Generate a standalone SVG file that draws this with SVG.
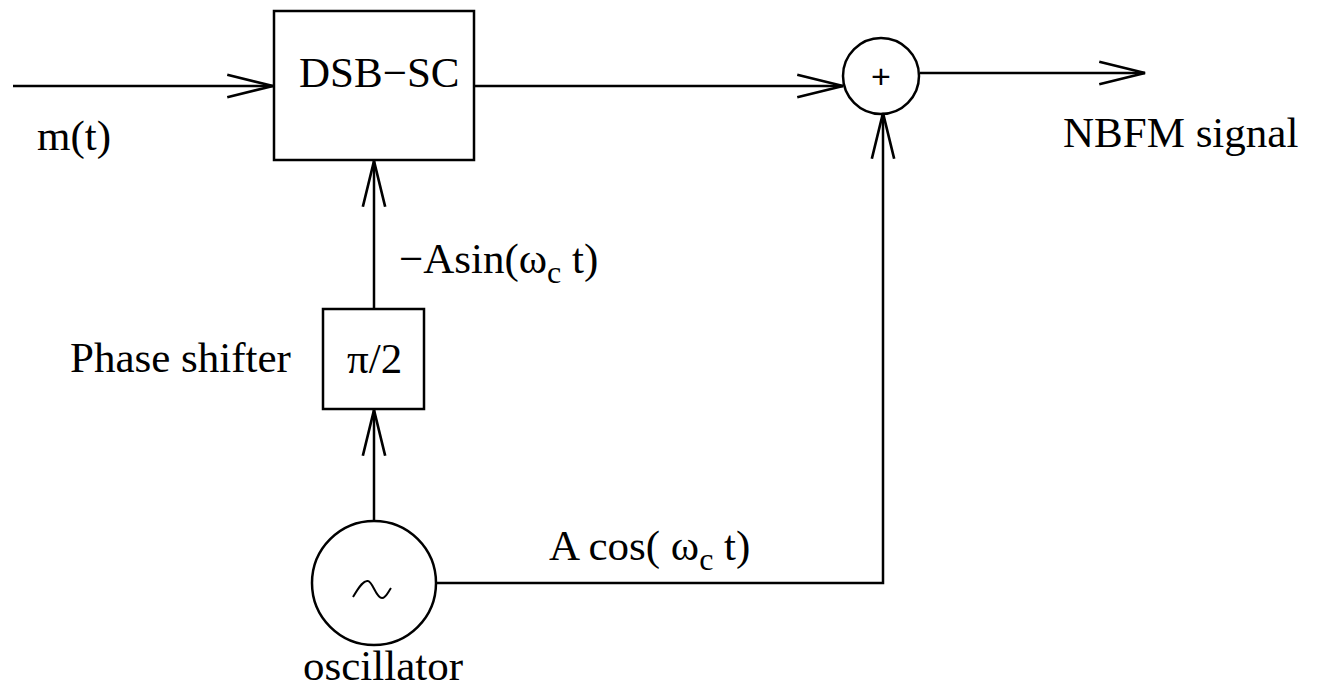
<svg xmlns="http://www.w3.org/2000/svg" width="1318" height="687" viewBox="0 0 1318 687">
<defs>
<marker id="a" markerUnits="userSpaceOnUse" markerWidth="50" markerHeight="30" viewBox="-45 -12 47 24" refX="0" refY="0" orient="auto">
<path d="M-43,-10.5 L0,0 L-43,10.5" fill="none" stroke="#000" stroke-width="2.5"/>
</marker>
</defs>
<rect width="1318" height="687" fill="#fff"/>
<g id="connectors" fill="none" stroke="#000" stroke-width="2.5">
<line x1="13" y1="86" x2="273" y2="86" marker-end="url(#a)"/>
<line x1="474" y1="86" x2="843" y2="86" marker-end="url(#a)"/>
<line x1="920" y1="73" x2="1145" y2="73" marker-end="url(#a)"/>
<line x1="374" y1="309" x2="374" y2="161" marker-end="url(#a)"/>
<line x1="374" y1="521" x2="374" y2="410" marker-end="url(#a)"/>
<polyline points="436,583 883,583 883,113" marker-end="url(#a)"/>
</g>
<g font-family="Liberation Serif" font-size="43" fill="#000">
<g id="dsbsc">
<rect x="274" y="11" width="200" height="149" fill="none" stroke="#000" stroke-width="2.5"/>
<text x="299" y="87">DSB−SC</text>
</g>
<g id="adder">
<circle cx="881" cy="76" r="38" fill="none" stroke="#000" stroke-width="2.5"/>
<text x="881" y="88" text-anchor="middle" font-family="Liberation Sans" font-size="34">+</text>
</g>
<g id="phase">
<rect x="323" y="309" width="101" height="100" fill="none" stroke="#000" stroke-width="2.5"/>
<text x="347" y="373">π/2</text>
</g>
<g id="oscillator">
<circle cx="374" cy="583" r="62" fill="none" stroke="#000" stroke-width="2.5"/>
<path d="M353,597 C360,585 364,580 368,581 C373,582 376,598 382,598 C386,598 388,592 391,588" fill="none" stroke="#000" stroke-width="2"/>
</g>
<g id="labels">
<text x="37" y="150">m(t)</text>
<text x="1063" y="147">NBFM signal</text>
<text x="399" y="273">−Asin(ω<tspan dy="10" font-size="32">c</tspan><tspan dy="-10"> t)</tspan></text>
<text x="70" y="372">Phase shifter</text>
<text x="549" y="560">A cos( ω<tspan dy="10" font-size="32">c</tspan><tspan dy="-10"> t)</tspan></text>
<text x="303" y="680">oscillator</text>
</g>
</g>
</svg>
